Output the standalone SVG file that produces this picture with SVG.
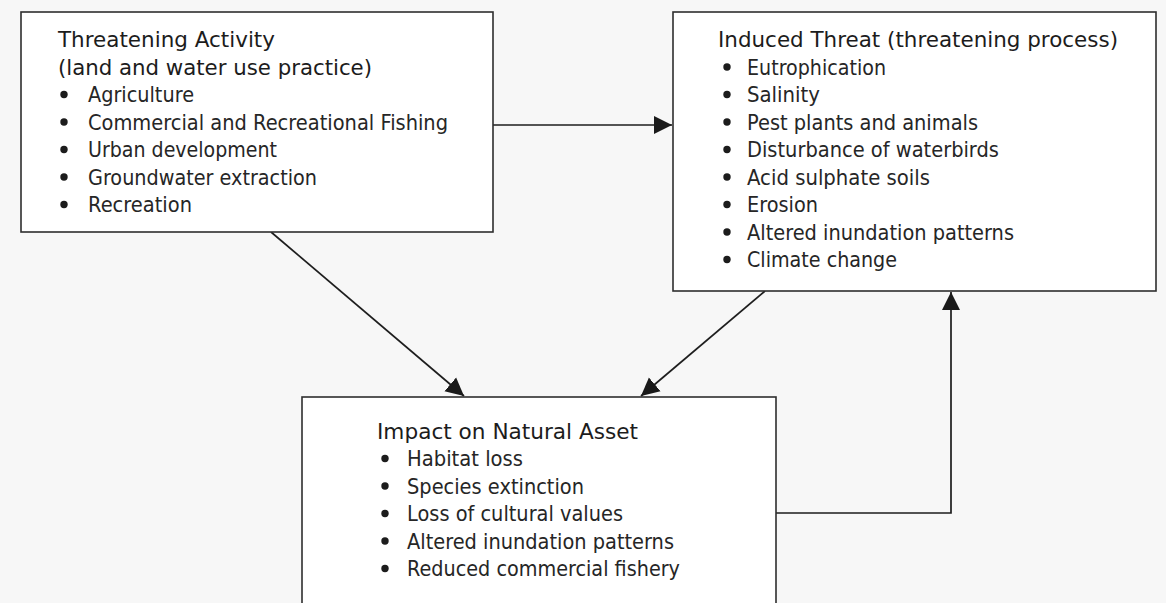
<svg xmlns="http://www.w3.org/2000/svg" width="1166" height="603" viewBox="0 0 1166 603">
<style>
.box{fill:#ffffff;stroke:#2e2e2e;stroke-width:1.6}
.title{font-family:"DejaVu Sans","Liberation Sans",sans-serif;font-size:21px;fill:#1c1c1c}
.item{font-family:"DejaVu Sans","Liberation Sans",sans-serif;font-size:20.5px;fill:#262626}
.bul{fill:#1c1c1c}
.conn{fill:none;stroke:#1e1e1e;stroke-width:1.7}
</style>
<defs>
<marker id="ah" markerUnits="userSpaceOnUse" markerWidth="20" markerHeight="20" refX="18" refY="10" orient="auto">
<path d="M0,1 L18,10 L0,19 z" fill="#1a1a1a"/>
</marker>
</defs>
<rect x="0" y="0" width="1166" height="603" fill="#f7f7f7"/>

<g id="connectors">
<line class="conn" x1="493" y1="125" x2="672" y2="125" marker-end="url(#ah)"/>
<line class="conn" x1="271" y1="232" x2="464" y2="396" marker-end="url(#ah)"/>
<line class="conn" x1="765" y1="291" x2="641" y2="396" marker-end="url(#ah)"/>
<polyline class="conn" points="776,513 951,513 951,292" marker-end="url(#ah)"/>
</g>

<g id="threatening-activity">
<rect class="box" x="21" y="12" width="472" height="220"/>
<text class="title" x="58" y="47" textLength="217" lengthAdjust="spacingAndGlyphs">Threatening Activity</text>
<text class="title" x="58" y="74.5" textLength="314" lengthAdjust="spacingAndGlyphs">(land and water use practice)</text>
<circle class="bul" cx="64" cy="94.5" r="3.7"/>
<text class="item" x="88" y="102" textLength="106" lengthAdjust="spacingAndGlyphs">Agriculture</text>
<circle class="bul" cx="64" cy="122" r="3.7"/>
<text class="item" x="88" y="129.5" textLength="360" lengthAdjust="spacingAndGlyphs">Commercial and Recreational Fishing</text>
<circle class="bul" cx="64" cy="149.5" r="3.7"/>
<text class="item" x="88" y="157" textLength="189" lengthAdjust="spacingAndGlyphs">Urban development</text>
<circle class="bul" cx="64" cy="177" r="3.7"/>
<text class="item" x="88" y="184.5" textLength="229" lengthAdjust="spacingAndGlyphs">Groundwater extraction</text>
<circle class="bul" cx="64" cy="204.5" r="3.7"/>
<text class="item" x="88" y="212" textLength="104" lengthAdjust="spacingAndGlyphs">Recreation</text>
</g>

<g id="induced-threat">
<rect class="box" x="673" y="12" width="483" height="279"/>
<text class="title" x="718" y="47" textLength="400" lengthAdjust="spacingAndGlyphs">Induced Threat (threatening process)</text>
<circle class="bul" cx="727" cy="67" r="3.7"/>
<text class="item" x="747" y="74.5" textLength="139" lengthAdjust="spacingAndGlyphs">Eutrophication</text>
<circle class="bul" cx="727" cy="94.5" r="3.7"/>
<text class="item" x="747" y="102" textLength="73" lengthAdjust="spacingAndGlyphs">Salinity</text>
<circle class="bul" cx="727" cy="122" r="3.7"/>
<text class="item" x="747" y="129.5" textLength="231" lengthAdjust="spacingAndGlyphs">Pest plants and animals</text>
<circle class="bul" cx="727" cy="149.5" r="3.7"/>
<text class="item" x="747" y="157" textLength="252" lengthAdjust="spacingAndGlyphs">Disturbance of waterbirds</text>
<circle class="bul" cx="727" cy="177" r="3.7"/>
<text class="item" x="747" y="184.5" textLength="183" lengthAdjust="spacingAndGlyphs">Acid sulphate soils</text>
<circle class="bul" cx="727" cy="204.5" r="3.7"/>
<text class="item" x="747" y="212" textLength="71" lengthAdjust="spacingAndGlyphs">Erosion</text>
<circle class="bul" cx="727" cy="232" r="3.7"/>
<text class="item" x="747" y="239.5" textLength="267" lengthAdjust="spacingAndGlyphs">Altered inundation patterns</text>
<circle class="bul" cx="727" cy="259.5" r="3.7"/>
<text class="item" x="747" y="267" textLength="150" lengthAdjust="spacingAndGlyphs">Climate change</text>
</g>

<g id="impact-natural-asset">
<rect class="box" x="302" y="397" width="474" height="230"/>
<text class="title" x="377" y="438.5" textLength="261" lengthAdjust="spacingAndGlyphs">Impact on Natural Asset</text>
<circle class="bul" cx="385" cy="458.5" r="3.7"/>
<text class="item" x="407" y="466" textLength="116" lengthAdjust="spacingAndGlyphs">Habitat loss</text>
<circle class="bul" cx="385" cy="486" r="3.7"/>
<text class="item" x="407" y="493.5" textLength="177" lengthAdjust="spacingAndGlyphs">Species extinction</text>
<circle class="bul" cx="385" cy="513.5" r="3.7"/>
<text class="item" x="407" y="521" textLength="216" lengthAdjust="spacingAndGlyphs">Loss of cultural values</text>
<circle class="bul" cx="385" cy="541" r="3.7"/>
<text class="item" x="407" y="548.5" textLength="267" lengthAdjust="spacingAndGlyphs">Altered inundation patterns</text>
<circle class="bul" cx="385" cy="568.5" r="3.7"/>
<text class="item" x="407" y="576" textLength="273" lengthAdjust="spacingAndGlyphs">Reduced commercial fishery</text>
</g>
</svg>
